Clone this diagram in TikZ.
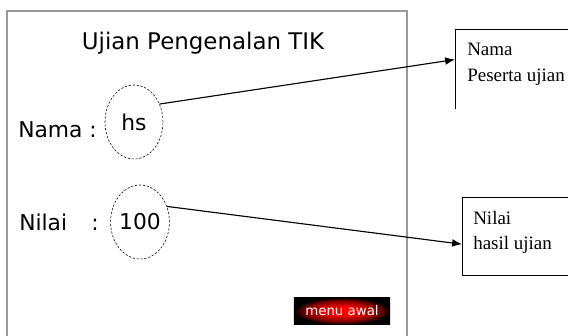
\documentclass[tikz,border=0pt]{standalone}
\usepackage{fontspec}
\setmainfont{Liberation Serif}
\newfontfamily\uifont{DejaVu Sans}
\usetikzlibrary{arrows.meta,shapes.geometric}
\pgfdeclareradialshading{btnglow}{\pgfpoint{0bp}{0bp}}{%
  color(0bp)=(red); color(7bp)=(red); color(19bp)=(red!50!black);
  color(25bp)=(black); color(50bp)=(black)}

\begin{document}
\begin{tikzpicture}[x=0.025cm, y=-0.025cm,
    frame/.style={draw=gray!80, line width=1pt},
    lbl/.style={font=\uifont\fontsize{15.5}{18}\selectfont, inner sep=0pt},
    valcirc/.style={ellipse, draw, dashed, dash pattern=on 1.6pt off 1.2pt,
      thin, minimum width=1.45cm, minimum height=1.85cm, inner sep=0pt,
      font=\uifont\fontsize{15.5}{18}\selectfont},
    infobox/.style={rectangle, minimum width=3.75cm, inner sep=0pt},
    boxtxt/.style={font=\fontsize{13.5}{18}\selectfont, align=left, inner sep=0pt},
    link/.style={line width=0.8pt, -{Latex[length=7pt,width=5.5pt]}}]
    \useasboundingbox (0,0) rectangle (568,336);
    \clip (0,0) rectangle (568,336);
% screen on the left
    \draw[frame] (7,350) -- (7,11) -- (407,11) -- (407,350);
    \node[lbl, font=\uifont\fontsize{16.3}{19}\selectfont] (title) at (203,43) {Ujian Pengenalan TIK};
    \node[lbl, anchor=base west] (namalbl) at (18,137) {Nama :};
    \node[lbl, anchor=base west] (nilailbl) at (19,230) {Nilai};
    \node[lbl, anchor=base west] (nilaicolon) at (91,230) {:};
    \node[valcirc] (namaval) at (134,122) {hs};
    \node[valcirc] (nilaival) at (140,222) {100};
    \node[minimum width=2.4cm, minimum height=0.675cm, shading=btnglow,
      text=white, font=\uifont\fontsize{9.5}{11}\selectfont] (menubtn) at (342,311) {menu awal};
% explanation boxes on the right
    \node[infobox, anchor=north west, minimum height=1.975cm] (namabox) at (455,29) {};
    \draw (namabox.south west) -- (namabox.north west) -- (namabox.north east);
    \node[boxtxt, anchor=north west] (namatxt) at (467,43) {Nama\\Peserta ujian};
    \node[infobox, anchor=north west, minimum height=1.95cm] (nilaibox) at (462,197) {};
    \draw (nilaibox.north east) -- (nilaibox.north west) -- (nilaibox.south west) -- (nilaibox.south east);
    \node[boxtxt, anchor=north west] (nilaitxt) at (473,211) {Nilai\\hasil ujian};
% arrows
    \draw[link] (namaval.35) -- (namabox.173);
    \draw[link] (nilaival.30) -- (nilaibox.186);
\end{tikzpicture}
\end{document}
